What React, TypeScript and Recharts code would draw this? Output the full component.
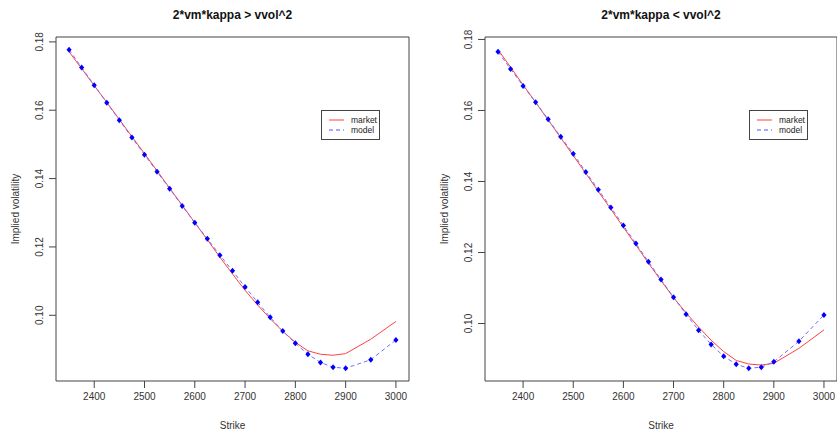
import { LineChart, Line, XAxis, YAxis, ReferenceArea, Label } from "recharts"

const strikes = [2350, 2375, 2400, 2425, 2450, 2475, 2500, 2525, 2550, 2575, 2600, 2625, 2650, 2675, 2700, 2725, 2750, 2775, 2800, 2825, 2850, 2875, 2900, 2950, 3000]

const market = [0.1771, 0.1722, 0.1672, 0.1623, 0.1573, 0.1523, 0.1473, 0.1423, 0.1372, 0.1322, 0.1271, 0.1221, 0.1170, 0.1121, 0.1073, 0.1030, 0.0990, 0.0953, 0.0921, 0.0896, 0.0886, 0.0883, 0.0888, 0.0930, 0.0982]

const modelLeft = [0.1777, 0.1725, 0.1673, 0.1622, 0.1571, 0.1520, 0.1470, 0.1420, 0.1370, 0.1320, 0.1271, 0.1224, 0.1176, 0.1130, 0.1083, 0.1038, 0.0994, 0.0954, 0.0918, 0.0886, 0.0862, 0.0848, 0.0845, 0.0870, 0.0928]

const modelRight = [0.1765, 0.1717, 0.1669, 0.1623, 0.1575, 0.1526, 0.1478, 0.1427, 0.1377, 0.1327, 0.1276, 0.1225, 0.1174, 0.1124, 0.1074, 0.1026, 0.0981, 0.0941, 0.0908, 0.0885, 0.0874, 0.0877, 0.0892, 0.0950, 0.1024]

const xTicks = [2400, 2500, 2600, 2700, 2800, 2900, 3000]
const yTicks = [0.10, 0.12, 0.14, 0.16, 0.18]

const FONT = "'Liberation Sans', Arial, sans-serif"

// R style: data range stretched by 4% on each side
function padRange(vals: number[]): [number, number] {
    const lo = Math.min(...vals)
    const hi = Math.max(...vals)
    const d = (hi - lo) * 0.04
    return [lo - d, hi + d]
}

function Diamond(props: any) {
    const { cx, cy } = props
    if (cx == null || cy == null) return null
    return <polygon points={`${cx},${cy - 3} ${cx + 2.6},${cy} ${cx},${cy + 3} ${cx - 2.6},${cy}`} fill="#0000ff" />
}

function YTick(props: any) {
    const { x, y, payload } = props
    return (
        <text transform={`translate(${x - 4},${y}) rotate(-90)`} textAnchor="middle" fontSize={10} fill="#333" fontFamily={FONT}>
            {payload.value.toFixed(2)}
        </text>
    )
}

function LegendBox({ left }: { left: number }) {
    return (
        <svg width={60} height={31} style={{ position: "absolute", left, top: 110 }}>
            <rect x={0.5} y={0.5} width={58} height={29} fill="white" stroke="#444" />
            <line x1={8} x2={23} y1={10} y2={10} stroke="#ff4040" />
            <text x={30} y={13} fontSize={8.5} fill="#222" fontFamily={FONT}>market</text>
            <line x1={8} x2={23} y1={20} y2={20} stroke="#5050ff" strokeDasharray="4 3" />
            <text x={30} y={23} fontSize={8.5} fill="#222" fontFamily={FONT}>model</text>
        </svg>
    )
}

function Panel({ title, model, width, legendLeft }: { title: string; model: number[]; width: number; legendLeft: number }) {
    const data = strikes.map((k, i) => ({ strike: k, market: market[i], model: model[i] }))
    const xDom = padRange(strikes)
    const yDom = padRange([...market, ...model])
    const isLeft = width === 418
    return (
        <div style={{ position: "relative", width, height: 435 }}>
            <div style={{ position: "absolute", top: 8, left: isLeft ? 56 : 67, width: isLeft ? 353 : 352, textAlign: "center", fontFamily: FONT, fontWeight: "bold", fontSize: 12, color: "#111" }}>
                {title}
            </div>
            <LineChart width={width} height={435} data={data} margin={{ top: 37, right: isLeft ? 9 : 0, bottom: 0, left: 0 }}>
                <XAxis dataKey="strike" type="number" domain={xDom} ticks={xTicks} allowDataOverflow axisLine={false} tickSize={7} tickMargin={5} tickLine={{ stroke: "#444" }} tick={{ fontSize: 10, fill: "#333", fontFamily: FONT }} height={54}>
                    <Label value="Strike" position="insideBottom" offset={6} fontSize={10} fill="#333" fontFamily={FONT} />
                </XAxis>
                <YAxis type="number" domain={yDom} ticks={yTicks} allowDataOverflow axisLine={false} tickSize={7} tickMargin={2} tickLine={{ stroke: "#444" }} tick={<YTick />} width={isLeft ? 56 : 67}>
                    <Label
                        content={(p: any) => {
                            const vb = p.viewBox
                            return (
                                <text transform={`translate(${vb.x + vb.width - 37},${vb.y + vb.height / 2}) rotate(-90)`} textAnchor="middle" fontSize={10} fill="#333" fontFamily={FONT}>
                                    Implied volatility
                                </text>
                            )
                        }}
                    />
                </YAxis>
                <ReferenceArea x1={xDom[0]} x2={xDom[1]} y1={yDom[0]} y2={yDom[1]} fill="none" stroke="#444" strokeWidth={1} ifOverflow="visible" />
                <Line dataKey="market" type="linear" stroke="#ff4040" strokeWidth={1} dot={false} isAnimationActive={false} />
                <Line dataKey="model" type="linear" stroke="#7070ff" strokeWidth={1} strokeDasharray="4 3" dot={<Diamond />} isAnimationActive={false} />
            </LineChart>
            <LegendBox left={legendLeft} />
        </div>
    )
}

export default function App() {
    return (
        <div style={{ position: "absolute", left: 0, top: 0, display: "flex", width: 837, height: 435, background: "white" }}>
            <Panel title="2*vm*kappa > vvol^2" model={modelLeft} width={418} legendLeft={321} />
            <Panel title="2*vm*kappa < vvol^2" model={modelRight} width={419} legendLeft={331} />
        </div>
    )
}
